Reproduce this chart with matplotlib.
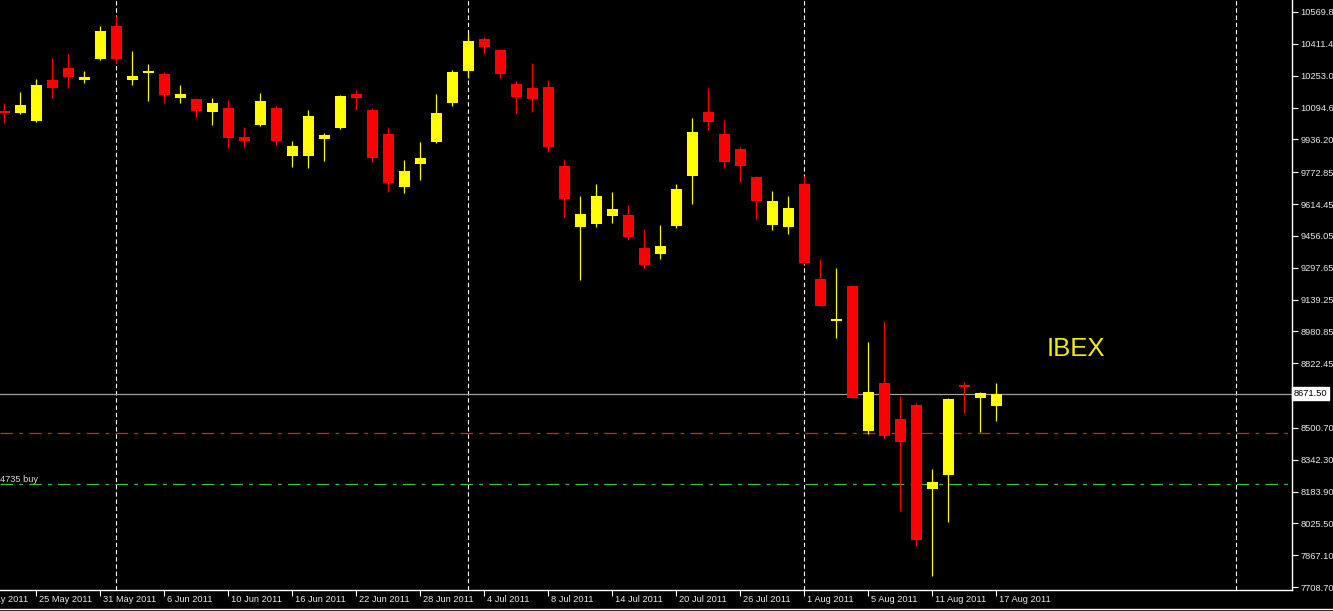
import matplotlib
matplotlib.use('Agg')
import matplotlib.pyplot as plt
import matplotlib.transforms as mtransforms
import numpy as np

# daily IBEX bars, first bar = 23 May 2011
opens = [10077, 10067, 10028, 10231, 10291, 10231, 10336, 10500, 10231, 10268,
         10261, 10142, 10137, 10072, 10092, 9948, 10008, 10092, 9853, 9853,
         9938, 9993, 10162, 10082, 9963, 9699, 9814, 9923, 10117, 10276,
         10435, 10381, 10212, 10192, 10197, 9804, 9500, 9515, 9555, 9560,
         9396, 9366, 9505, 9754, 10072, 9963, 9888, 9749, 9510, 9500,
         9714, 9241, 9032, 9207, 8485, 8724, 8545, 8615, 8197, 8266,
         8714, 8650, 8610]
highs = [10117, 10172, 10236, 10341, 10361, 10276, 10500, 10550, 10376, 10311,
         10271, 10207, 10142, 10142, 10132, 9998, 10167, 10102, 9928, 10082,
         9968, 10157, 10182, 10092, 9998, 9833, 9923, 10162, 10281, 10465,
         10445, 10386, 10227, 10316, 10231, 9838, 9654, 9714, 9674, 9610,
         9490, 9510, 9714, 10042, 10192, 10032, 9898, 9752, 9679, 9654,
         9754, 9341, 9296, 9210, 8928, 9032, 8659, 8625, 8296, 8647,
         8729, 8680, 8724]
lows = [10018, 10062, 10025, 10142, 10192, 10217, 10331, 10316, 10207, 10127,
        10117, 10117, 10042, 10008, 9893, 9898, 10003, 9908, 9799, 9794,
        9828, 9990, 10082, 9823, 9674, 9669, 9734, 9918, 10102, 10241,
        10361, 10241, 10067, 10072, 9873, 9550, 9236, 9500, 9520, 9435,
        9296, 9341, 9495, 9615, 9983, 9794, 9724, 9540, 9485, 9465,
        9316, 9105, 8948, 8647, 8470, 8450, 8087, 7913, 7764, 8032,
        8575, 8480, 8535]
closes = [10067, 10107, 10207, 10192, 10246, 10246, 10475, 10336, 10251, 10274,
          10157, 10162, 10077, 10117, 9943, 9928, 10127, 9928, 9903, 10052,
          9958, 10152, 10142, 9843, 9719, 9779, 9843, 10067, 10271, 10425,
          10396, 10261, 10147, 10137, 9898, 9639, 9565, 9654, 9590, 9450,
          9311, 9406, 9689, 9973, 10022, 9823, 9804, 9630, 9630, 9595,
          9321, 9107, 9042, 8650, 8679, 8460, 8430, 7943, 8232, 8644,
          8704, 8674, 8671.5]

date_pos = [-2, 2, 6, 10, 14, 18, 22, 26, 30, 34, 38, 42, 46, 50, 54, 58, 62]
date_labels = ['19 May 2011', '25 May 2011', '31 May 2011', '6 Jun 2011', '10 Jun 2011',
               '16 Jun 2011', '22 Jun 2011', '28 Jun 2011', '4 Jul 2011', '8 Jul 2011',
               '14 Jul 2011', '20 Jul 2011', '26 Jul 2011', '1 Aug 2011', '5 Aug 2011',
               '11 Aug 2011', '17 Aug 2011']
separators = [7, 29, 50, 77]

price_ticks = [10569.80, 10411.40, 10253.00, 10094.60, 9936.20, 9772.85, 9614.45,
               9456.05, 9297.65, 9139.25, 8980.85, 8822.45, 8500.70, 8342.30,
               8183.90, 8025.50, 7867.10, 7708.70]
last_price = 8671.50
red_level = 8475
green_level = 8222

W, H = 1333, 611
FS = 6.7
fig = plt.figure(figsize=(W / 100, H / 100), dpi=100, facecolor='black')
ax = fig.add_axes([0, 21 / H, 1292 / W, 590 / H], facecolor='black')

x = np.arange(len(opens))
o = np.array(opens, float)
c = np.array(closes, float)
up = c >= o
cols = np.where(up, '#FFFF00', '#FF0000')

ax.vlines(x, lows, highs, colors=cols, lw=0.9, zorder=3)
body = np.maximum(np.abs(c - o), 5)
ax.bar(x, body, bottom=np.minimum(o, c), width=0.69, color=cols, lw=0, zorder=4)

for s in separators:
    ax.axvline(s, color='white', lw=0.8, ls=(0, (4, 2.5)), zorder=1)

ax.axhline(last_price, color='#A0A0A0', lw=0.9, zorder=2)
ax.axhline(red_level, color='#E02020', lw=0.9, ls=(0, (10, 5, 3, 5)), zorder=2)
ax.axhline(green_level, color='#40C040', lw=0.9, ls=(0, (10, 5, 3, 5)), zorder=2)

ax.set_xlim(-0.27, 80.48)
ax.set_ylim(7694.2, 10629.5)

for sp in ['top', 'left']:
    ax.spines[sp].set_visible(False)
for sp in ['right', 'bottom']:
    ax.spines[sp].set_color('white')
    ax.spines[sp].set_linewidth(1)

ax.yaxis.tick_right()
ax.set_yticks(price_ticks)
ax.set_yticklabels(['%.2f' % v for v in price_ticks])
ax.tick_params(axis='y', colors='white', length=4, width=0.8, pad=2,
               labelsize=FS, labelcolor='#E8E8E8')
for lbl in ax.get_yticklabels():
    lbl.set_family('Liberation Sans')

vis = [p for p in date_pos if p >= 0]
ax.set_xticks(vis)
ax.set_xticklabels([])
ax.tick_params(axis='x', colors='white', length=4, width=0.8)

trans = mtransforms.blended_transform_factory(ax.transData, ax.transAxes)
off = mtransforms.ScaledTranslation(3 / 100, -10 / 100, fig.dpi_scale_trans)
for p, lab in zip(date_pos, date_labels):
    ax.text(p, 0, lab, transform=trans + off, ha='left', va='center', color='#E8E8E8',
            fontsize=FS, family='Liberation Sans', clip_on=False)

# current price box on the right scale
ytr = mtransforms.blended_transform_factory(ax.transAxes, ax.transData)
ax.text(1.0015, last_price, '%.2f' % last_price, transform=ytr, ha='left', va='center',
        color='black', fontsize=FS, family='Liberation Sans', zorder=10,
        bbox=dict(boxstyle='square,pad=0.2', fc='white', ec='white'))

ax.text(0.0, green_level, '4735 buy', transform=ytr, ha='left', va='bottom',
        color='#D8D8D8', fontsize=FS, family='Liberation Sans')

ax.text(67.0, 8893, 'IBEX', color='#F0F000', fontsize=18.5, family='Liberation Sans',
        ha='center', va='center')

fig.add_artist(plt.Line2D([0, 1], [2 / H, 2 / H], color='white', lw=1))

fig.savefig('out.png', dpi=100, facecolor='black')
